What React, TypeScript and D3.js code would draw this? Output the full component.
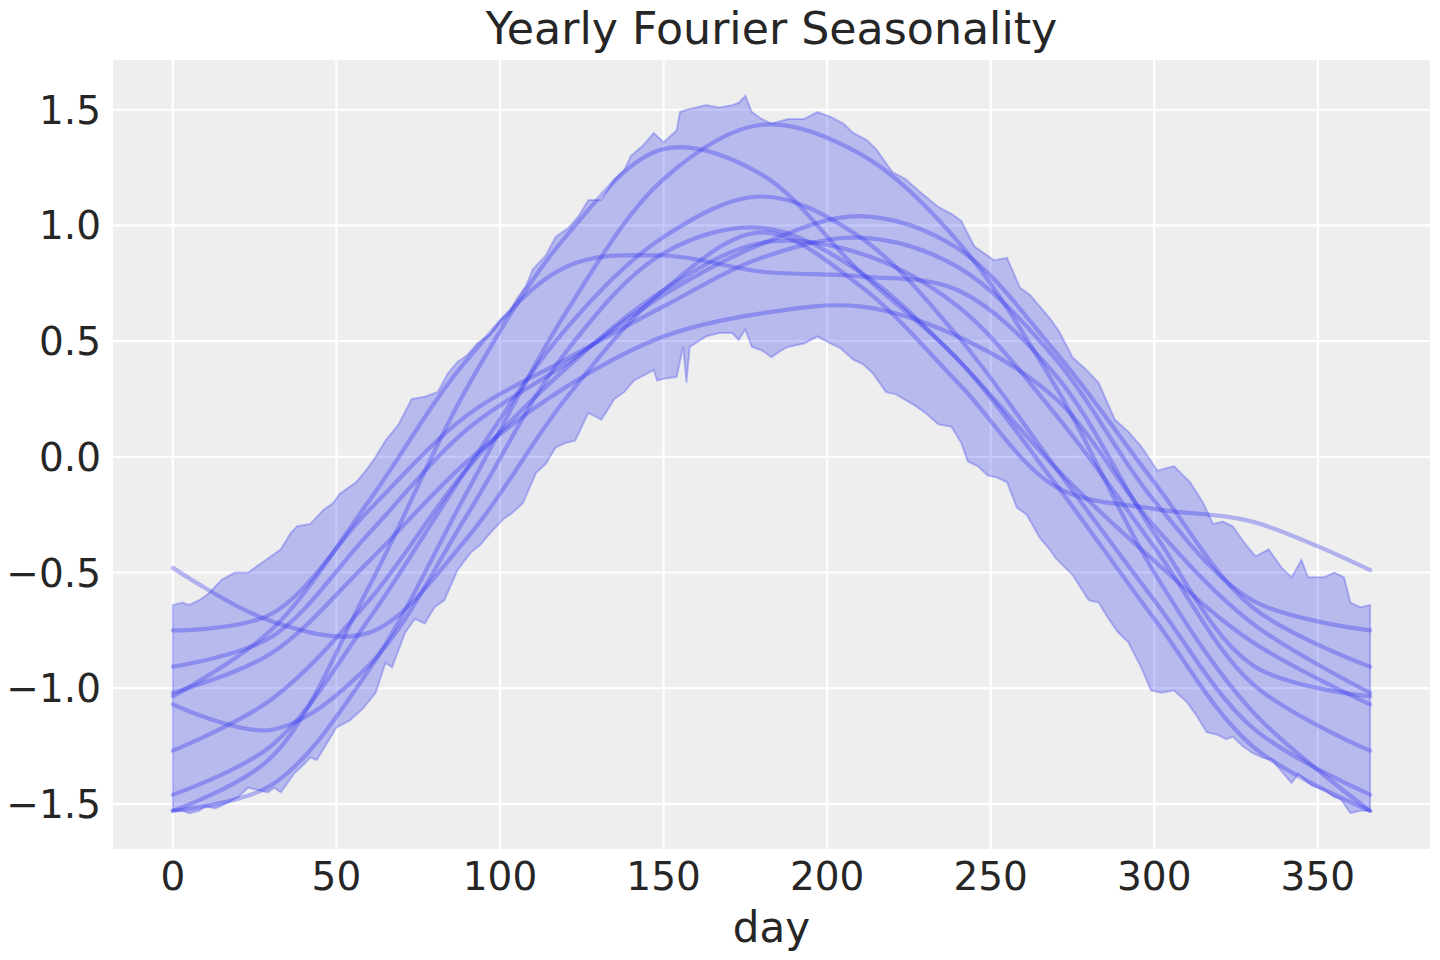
import { useEffect, useRef } from "react";
import * as d3 from "d3";

// sample days for the posterior draws
const days = [0, 30, 60, 90, 120, 150, 180, 210, 240, 270, 300, 330, 366];

// ten posterior draws of the yearly seasonality
const draw1 = [-1.53, -1.42, -0.92, -0.15, 0.62, 1.2, 1.435, 1.31, 0.93, 0.3, -0.5, -1.1, -1.53];
const draw2 = [-1.53, -1.3, -0.56, 0.3, 0.95, 1.33, 1.22, 0.8, 0.42, -0.12, -0.7, -1.25, -1.53];
const draw3 = [-1.46, -1.25, -0.7, -0.05, 0.55, 0.95, 1.125, 0.95, 0.52, -0.05, -0.62, -1.17, -1.46];
const draw4 = [-1.27, -1.05, -0.62, -0.05, 0.38, 0.72, 0.925, 0.88, 0.65, 0.18, -0.39, -0.98, -1.27];
const draw5 = [-1.07, -1.18, -0.9, -0.25, 0.45, 0.88, 0.99, 0.8, 0.42, -0.05, -0.45, -0.8, -1.07];
const draw6 = [-1.035, -0.75, -0.19, 0.42, 0.82, 0.87, 0.8, 0.78, 0.72, 0.35, -0.33, -0.9, -1.035];
const draw7 = [-1.02, -0.85, -0.45, -0.02, 0.3, 0.52, 0.62, 0.65, 0.52, 0.25, -0.3, -0.72, -1.02];
const draw8 = [-0.907, -0.78, -0.33, 0.12, 0.4, 0.7, 0.92, 1.04, 0.9, 0.45, -0.11, -0.65, -0.907];
const draw9 = [-0.75, -0.68, -0.23, 0.18, 0.42, 0.65, 0.86, 0.947, 0.82, 0.42, -0.19, -0.62, -0.75];
const draw10 = [-0.48, -0.71, -0.76, -0.35, 0.25, 0.72, 0.97, 0.74, 0.32, -0.13, -0.225, -0.28, -0.49];
const draws = [draw1, draw2, draw3, draw4, draw5, draw6, draw7, draw8, draw9, draw10];

// HDI band edges
const upperDays = [0, 3, 5, 8, 11, 15, 19, 23, 27, 30, 33, 36, 38, 42, 46, 49, 51, 56, 59, 62, 65, 69, 73, 77, 81, 84, 87, 90, 93, 97, 100, 103, 105, 108, 110, 114, 117, 121, 124, 127, 131, 135, 138, 140, 144, 147, 150, 154, 155, 157, 160, 163, 167, 171, 173, 175, 177, 180, 183, 188, 193, 197, 201, 205, 208, 212, 215, 220, 224, 228, 234, 238, 241, 245, 248, 251, 255, 259, 262, 265, 268, 271, 275, 279, 283, 288, 292, 296, 301, 306, 311, 315, 318, 321, 324, 328, 331, 335, 339, 342, 345, 347, 352, 355, 358, 360, 363, 366];
const upperVals = [-0.64, -0.63, -0.64, -0.62, -0.59, -0.53, -0.5, -0.5, -0.46, -0.43, -0.4, -0.33, -0.3, -0.29, -0.23, -0.2, -0.16, -0.11, -0.06, 0.0, 0.07, 0.14, 0.25, 0.26, 0.28, 0.36, 0.41, 0.44, 0.49, 0.53, 0.59, 0.63, 0.68, 0.74, 0.81, 0.87, 0.95, 0.99, 1.04, 1.11, 1.11, 1.2, 1.24, 1.3, 1.35, 1.4, 1.36, 1.41, 1.49, 1.5, 1.51, 1.52, 1.51, 1.52, 1.53, 1.56, 1.49, 1.46, 1.44, 1.46, 1.46, 1.49, 1.47, 1.44, 1.4, 1.37, 1.33, 1.23, 1.2, 1.15, 1.08, 1.05, 1.02, 0.91, 0.88, 0.85, 0.86, 0.73, 0.7, 0.65, 0.6, 0.54, 0.43, 0.38, 0.32, 0.16, 0.11, 0.045, -0.06, -0.04, -0.11, -0.2, -0.29, -0.28, -0.3, -0.38, -0.43, -0.4, -0.48, -0.52, -0.445, -0.52, -0.52, -0.5, -0.52, -0.63, -0.65, -0.64];
const lowerDays = [0, 3, 5, 8, 10, 13, 16, 20, 23, 26, 29, 31, 33, 37, 40, 42, 44, 47, 50, 54, 58, 62, 65, 67, 71, 74, 77, 80, 83, 87, 91, 94, 97, 101, 104, 107, 111, 114, 117, 120, 123, 127, 131, 135, 138, 141, 145, 147, 148, 151, 154, 156, 157, 158, 163, 167, 171, 173, 175, 177, 180, 183, 186, 188, 193, 197, 201, 204, 208, 211, 214, 218, 221, 224, 227, 230, 234, 238, 241, 243, 246, 249, 252, 255, 258, 261, 265, 268, 270, 275, 280, 283, 286, 289, 292, 296, 299, 302, 306, 310, 313, 316, 319, 322, 324, 327, 330, 333, 336, 339, 342, 344, 348, 352, 355, 357, 360, 363, 366];
const lowerVals = [-1.53, -1.53, -1.54, -1.53, -1.51, -1.52, -1.5, -1.47, -1.43, -1.44, -1.45, -1.43, -1.45, -1.37, -1.33, -1.3, -1.31, -1.24, -1.17, -1.14, -1.09, -1.02, -0.89, -0.91, -0.76, -0.7, -0.72, -0.65, -0.62, -0.49, -0.415, -0.38, -0.33, -0.27, -0.24, -0.2, -0.07, -0.03, 0.04, 0.06, 0.07, 0.19, 0.16, 0.25, 0.28, 0.33, 0.36, 0.376, 0.33, 0.34, 0.345, 0.475, 0.32, 0.475, 0.52, 0.535, 0.535, 0.505, 0.55, 0.475, 0.46, 0.43, 0.46, 0.475, 0.49, 0.52, 0.49, 0.47, 0.42, 0.4, 0.36, 0.28, 0.27, 0.245, 0.22, 0.19, 0.14, 0.13, 0.06, -0.02, -0.04, -0.08, -0.09, -0.11, -0.22, -0.25, -0.35, -0.4, -0.44, -0.51, -0.62, -0.63, -0.7, -0.76, -0.8, -0.91, -1.01, -1.02, -1.01, -1.06, -1.12, -1.19, -1.2, -1.22, -1.21, -1.25, -1.28, -1.3, -1.31, -1.36, -1.41, -1.37, -1.42, -1.44, -1.47, -1.48, -1.54, -1.53, -1.53];

const xTicks = [0, 50, 100, 150, 200, 250, 300, 350];
const yTicks = [-1.5, -1.0, -0.5, 0.0, 0.5, 1.0, 1.5];

const BLUE = "#2a2eec";
const FONT = "DejaVu Sans, sans-serif";
const TEXT = "#262626";

export default function App() {
  const svgRef = useRef<SVGSVGElement>(null);
  const W = 1440, H = 960;
  const m = { top: 60, right: 10, bottom: 111, left: 113 };
  const iW = W - m.left - m.right;
  const iH = H - m.top - m.bottom;

  useEffect(() => {
    if (!svgRef.current) return;
    const svg = d3.select(svgRef.current);
    svg.selectAll("*").remove();

    /* scales: matplotlib-style 5% margins */
    const x = d3.scaleLinear().domain([-18.3, 384.3]).range([m.left, m.left + iW]);
    const y = d3.scaleLinear().domain([-1.695, 1.715]).range([m.top + iH, m.top]);

    /* axes background + grid */
    svg.append("rect")
      .attr("x", m.left).attr("y", m.top)
      .attr("width", iW).attr("height", iH)
      .attr("fill", "#eeeeee");

    const grid = svg.append("g").attr("class", "grid");
    grid.selectAll("line.gx").data(xTicks).enter().append("line")
      .attr("x1", d => x(d)).attr("x2", d => x(d))
      .attr("y1", m.top).attr("y2", m.top + iH)
      .attr("stroke", "#ffffff").attr("stroke-width", 2.2);
    grid.selectAll("line.gy").data(yTicks).enter().append("line")
      .attr("x1", m.left).attr("x2", m.left + iW)
      .attr("y1", d => y(d)).attr("y2", d => y(d))
      .attr("stroke", "#ffffff").attr("stroke-width", 2.2);

    /* HDI band: upper edge forward, lower edge back */
    const bandPts: [number, number][] = [
      ...upperDays.map((d, i) => [d, upperVals[i]] as [number, number]),
      ...lowerDays.map((d, i) => [d, lowerVals[i]] as [number, number]).reverse(),
    ];
    const bandLine = d3.line<[number, number]>().x(d => x(d[0])).y(d => y(d[1]));
    svg.append("path")
      .attr("d", (bandLine(bandPts) ?? "") + "Z")
      .attr("fill", BLUE).attr("fill-opacity", 0.27)
      .attr("stroke", BLUE).attr("stroke-opacity", 0.27).attr("stroke-width", 2);

    /* posterior draws */
    const lineGen = d3.line<number>()
      .x((_, i) => x(days[i]))
      .y(d => y(d))
      .curve(d3.curveCatmullRom.alpha(0.5));
    svg.append("g").attr("class", "draws")
      .selectAll("path").data(draws).enter().append("path")
      .attr("d", d => lineGen(d) ?? "")
      .attr("fill", "none")
      .attr("stroke", BLUE).attr("stroke-opacity", 0.32)
      .attr("stroke-width", 4.2).attr("stroke-linecap", "round");

    /* tick labels */
    const fmt = (v: number) => d3.format(".1f")(v).replace("-", "\u2212");
    svg.append("g").selectAll("text").data(xTicks).enter().append("text")
      .attr("x", d => x(d)).attr("y", 890)
      .attr("text-anchor", "middle")
      .attr("font-family", FONT).attr("font-size", 39).attr("fill", TEXT)
      .text(d => String(d));
    svg.append("g").selectAll("text").data(yTicks).enter().append("text")
      .attr("x", 101).attr("y", d => y(d)).attr("dy", "0.36em")
      .attr("text-anchor", "end")
      .attr("font-family", FONT).attr("font-size", 39).attr("fill", TEXT)
      .text(d => fmt(d));

    /* axis label + title */
    svg.append("text")
      .attr("x", m.left + iW / 2).attr("y", 942)
      .attr("text-anchor", "middle")
      .attr("font-family", FONT).attr("font-size", 42).attr("fill", TEXT)
      .text("day");
    svg.append("text")
      .attr("x", m.left + iW / 2).attr("y", 44)
      .attr("text-anchor", "middle")
      .attr("font-family", FONT).attr("font-size", 44.3).attr("fill", TEXT)
      .text("Yearly Fourier Seasonality");
  }, [iH, iW, m.left, m.top]);

  return (
    <div style={{ position: "absolute", left: 0, top: 0 }}>
      <svg ref={svgRef} width={W} height={H} style={{ display: "block", background: "#ffffff" }} />
    </div>
  );
}
